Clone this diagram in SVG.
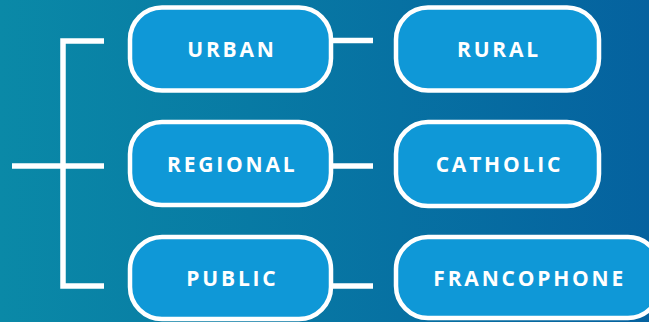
<svg xmlns="http://www.w3.org/2000/svg" width="649" height="322" viewBox="0 0 649 322">
  <defs>
    <linearGradient id="bg" x1="0" y1="0" x2="1" y2="0">
      <stop offset="0" stop-color="#0a89a7"/>
      <stop offset="1" stop-color="#05629f"/>
    </linearGradient>
    <style>
      .box { fill: #0f98d7; stroke: #ffffff; stroke-width: 4.5; }
      .lbl { fill: #ffffff; font-family: "Open Sans", "Noto Sans", sans-serif; font-weight: 700; font-size: 21px; letter-spacing: 2.8px; text-anchor: middle; dominant-baseline: central; }
      .con { fill: none; stroke: #ffffff; stroke-width: 5.5; }
    </style>
  </defs>
  <rect x="0" y="0" width="649" height="322" fill="url(#bg)"/>
  <g id="connectors">
    <path class="con" d="M104,41 H63 V286 H104"/>
    <path class="con" d="M12,166 H104"/>
    <path class="con" d="M332,40.5 H373"/>
    <path class="con" d="M332,166 H373"/>
    <path class="con" d="M332,286 H373"/>
  </g>
  <g id="urban">
    <rect class="box" x="130" y="7.5" width="201" height="83" rx="32"/>
    <text class="lbl" x="232" y="48.5">URBAN</text>
  </g>
  <g id="rural">
    <rect class="box" x="396" y="7.5" width="203" height="83" rx="32"/>
    <text class="lbl" x="499" y="48.5">RURAL</text>
  </g>
  <g id="regional">
    <rect class="box" x="130" y="122" width="201" height="83" rx="32"/>
    <text class="lbl" x="232.2" y="163.5">REGIONAL</text>
  </g>
  <g id="catholic">
    <rect class="box" x="396" y="122" width="203" height="84" rx="32"/>
    <text class="lbl" x="499.4" y="164">CATHOLIC</text>
  </g>
  <g id="public">
    <rect class="box" x="130" y="237" width="201" height="82" rx="32"/>
    <text class="lbl" x="232.4" y="278">PUBLIC</text>
  </g>
  <g id="francophone">
    <rect class="box" x="396" y="237" width="264" height="81" rx="32"/>
    <text class="lbl" x="529.7" y="278">FRANCOPHONE</text>
  </g>
</svg>
